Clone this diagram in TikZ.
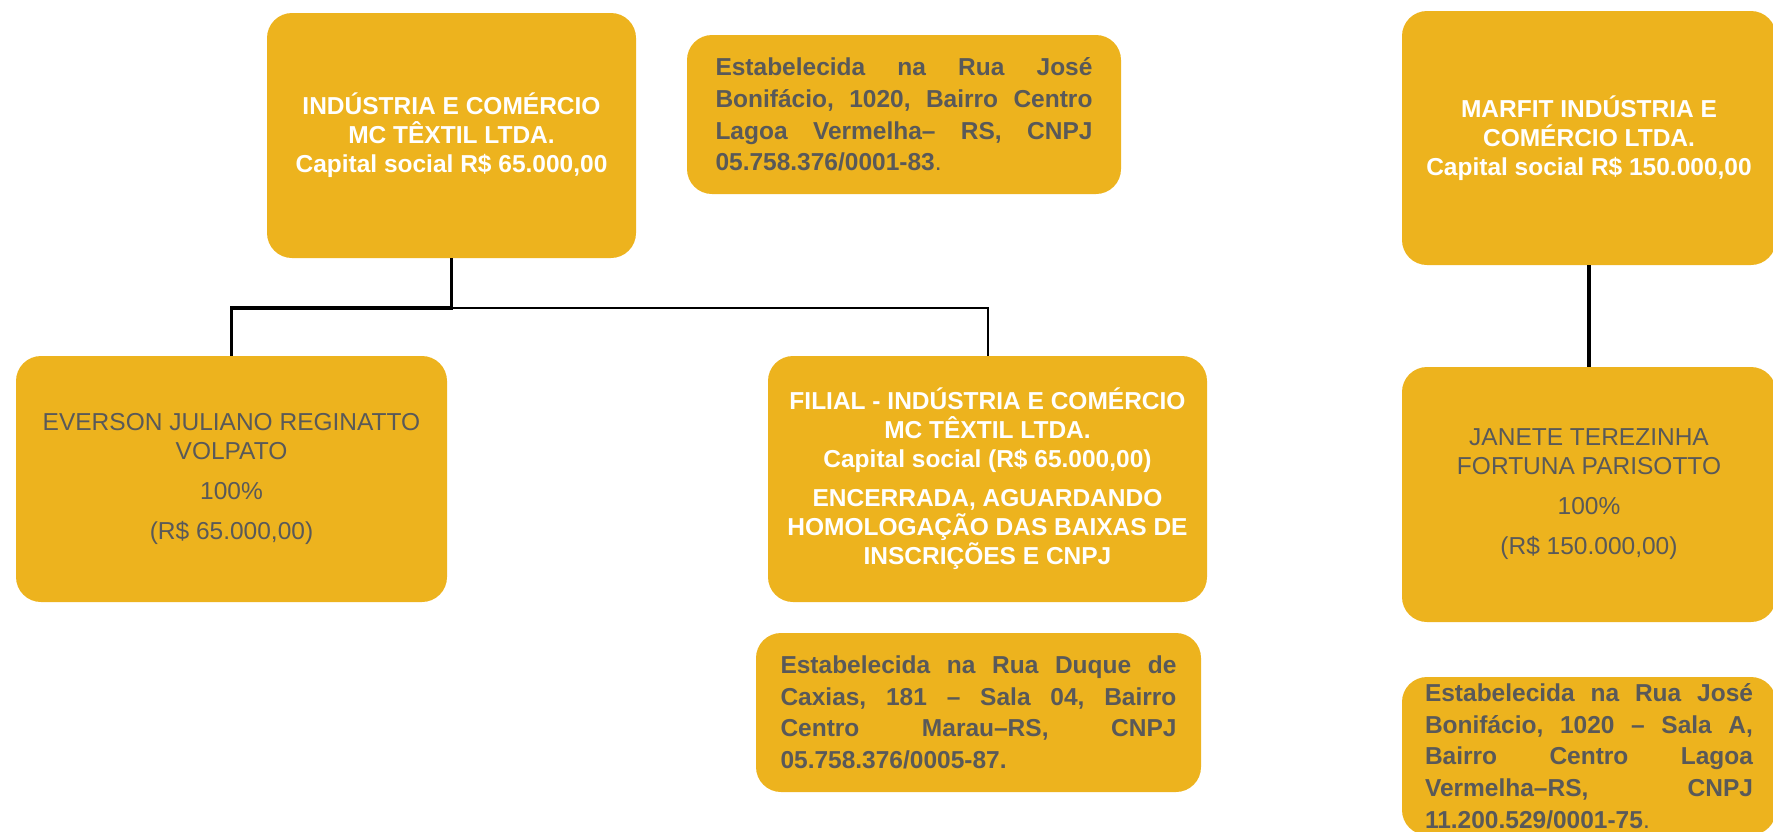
\documentclass[tikz,border=0pt]{standalone}
\usepackage{fontspec}
\setmainfont{Liberation Sans}
\definecolor{gold}{HTML}{EDB31E}
\definecolor{txtgray}{HTML}{595959}
\newcommand\jline[2]{\hbox to #1{\frenchspacing\spaceskip=.28em plus 1fil\relax#2}}
\newcommand\lline[2]{\hbox to #1{#2\hfil}}
\tikzset{
  box/.style={fill=gold, draw=none, rounded corners=25pt, inner sep=0pt, align=center},
  title/.style={box, text=white, font=\bfseries\fontsize{24.5}{29}\selectfont},
  person/.style={box, text=txtgray, font=\fontsize{24.5}{29}\selectfont},
  addr/.style={box, text=txtgray, font=\bfseries\fontsize{24.5}{31.7}\selectfont, align=left},
  conn/.style={line width=3.2pt, draw=black},
  connthin/.style={line width=2pt, draw=black},
}
\begin{document}
\begin{tikzpicture}[x=1pt,y=-1pt]
\useasboundingbox (0,0) rectangle (1773,831);

% top-left company
\node[title, minimum width=369pt, minimum height=245pt] (A) at (451.5,135.5)
  {INDÚSTRIA E COMÉRCIO\\MC TÊXTIL LTDA.\\Capital social R\$ 65.000,00};

% address 1
\node[addr, minimum width=434pt, minimum height=159pt] (B) at (904,114.5)
  {\jline{377pt}{Estabelecida na Rua José}\\
   \jline{377pt}{Bonifácio, 1020, Bairro Centro}\\
   \jline{377pt}{Lagoa Vermelha– RS, CNPJ}\\
   \lline{377pt}{05.758.376/0001-83\textmd{.}}};

% partner
\node[person, minimum width=431pt, minimum height=246pt] (C) at (231.5,479)
  {EVERSON JULIANO REGINATTO\\VOLPATO\\[11pt]100\%\\[11pt](R\$ 65.000,00)};

% branch
\node[title, minimum width=439pt, minimum height=246pt] (D) at (987.5,479)
  {FILIAL - INDÚSTRIA E COMÉRCIO\\MC TÊXTIL LTDA.\\Capital social (R\$ 65.000,00)\\[10pt]ENCERRADA, AGUARDANDO\\HOMOLOGAÇÃO DAS BAIXAS DE\\INSCRIÇÕES E CNPJ};

% address 2
\node[addr, minimum width=445pt, minimum height=159pt] (E) at (978.5,712.5)
  {\jline{396pt}{Estabelecida na Rua Duque de}\\
   \jline{396pt}{Caxias, 181 – Sala 04, Bairro}\\
   \jline{396pt}{Centro Marau–RS, CNPJ}\\
   \lline{396pt}{05.758.376/0005-87.}};

% MARFIT
\node[title, minimum width=374pt, minimum height=254pt] (F) at (1589,138)
  {MARFIT INDÚSTRIA E\\COMÉRCIO LTDA.\\Capital social R\$ 150.000,00};

% partner 2
\node[person, minimum width=374pt, minimum height=255pt] (G) at (1589,494.5)
  {JANETE TEREZINHA\\FORTUNA PARISOTTO\\[11pt]100\%\\[11pt](R\$ 150.000,00)};

% address 3
\node[addr, minimum width=374pt, minimum height=158pt] (H) at (1589,756)
  {\jline{328pt}{Estabelecida na Rua José}\\
   \jline{328pt}{Bonifácio, 1020 – Sala A,}\\
   \jline{328pt}{Bairro Centro Lagoa}\\
   \jline{328pt}{Vermelha–RS, CNPJ}\\
   \lline{328pt}{11.200.529/0001-75\textmd{.}}};

% connectors
\coordinate (j) at (451.5,308);
\draw[conn] (A.south) -- (j) -| (C.north);
\draw[connthin] (j) -| (D.north);
\draw[conn] (F.south) -- (G.north);
\end{tikzpicture}
\end{document}
